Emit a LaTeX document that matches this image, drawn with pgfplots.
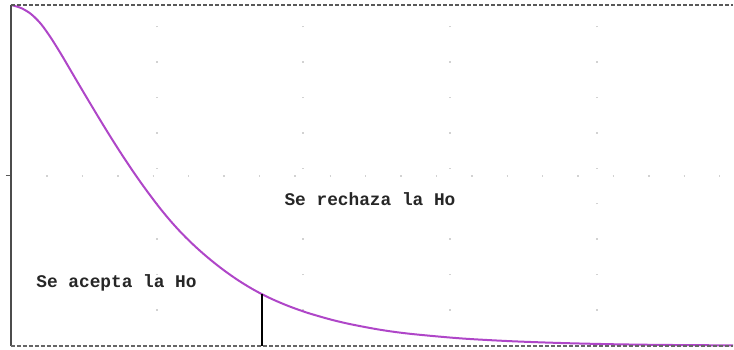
\documentclass[border=0pt]{standalone}
\usepackage{pgfplots}
\pgfplotsset{compat=1.18}
\usepackage{fontspec}
\setmainfont{Liberation Serif}
\newfontfamily\cour{Liberation Mono}
\definecolor{curve}{RGB}{175,70,200}
\begin{document}
\begin{tikzpicture}
\useasboundingbox (-5.5pt,-1.5pt) rectangle (361.5pt,173pt);
\begin{axis}[
  at={(0pt,0pt)}, anchor=south west,
  scale only axis, width=361pt, height=170.5pt,
  xmin=0, xmax=722, ymin=0, ymax=341,
  clip=false,
  axis line style={draw=none},
  xtick={146,292,439,586}, xticklabels={},
  ytick={170}, yticklabels={},
  xtick style={draw=none},
  ytick style={gray!70!black, line width=0.5pt},
  ytick pos=left, ytick align=outside,
  major tick length=2.5pt,
  grid=major,
  major grid style={gray!35, line width=0.6pt, dash pattern=on 0.7pt off 17pt},
]
\addplot[curve, line width=1pt, smooth, tension=0.5] coordinates {
(0,341)(10,338)(20,332)(30,322)(40,308)(50,292)(60,275)(70,258)(80,241.2)
(90,224.6)(100,208.4)(110,192.7)(120,177.6)(130,163.2)(140,149.5)(150,136.5)
(160,124.5)(170,113.5)(180,103.5)(190,94.3)(200,85.8)(210,77.9)(220,70.6)
(230,63.9)(240,57.8)(250,52.3)(260,47.4)(270,43)(280,39)(290,35.4)(300,32.1)
(320,26.4)(340,21.7)(370,16.1)(400,12.1)(450,7.6)(500,4.8)(550,3)(600,1.8)
(650,1.1)(722,0.6)
};
\addplot[black, line width=1pt] coordinates {(251,0)(251,51.8)};
\draw[gray!60!black, line width=0.7pt] (axis cs:0,0) -- (axis cs:0,341);
\draw[gray!80!black, line width=0.7pt, dash pattern=on 2pt off 1pt] (axis cs:0,0) -- (axis cs:722,0);
\draw[gray!70!black, line width=0.6pt, dash pattern=on 2pt off 1pt] (axis cs:0,341) -- (axis cs:722,341);
\node[anchor=west, inner sep=0pt, font=\cour\bfseries\fontsize{8.9}{10}\selectfont, text=black!85] at (axis cs:25,63) {Se acepta la Ho};
\node[anchor=center, font=\cour\bfseries\fontsize{8.9}{10}\selectfont, text=black!85] at (axis cs:359,147) {Se rechaza la Ho};
\end{axis}
\end{tikzpicture}
\end{document}
